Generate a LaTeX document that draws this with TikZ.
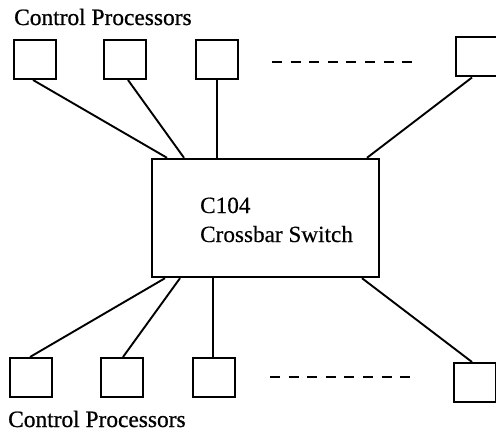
\documentclass[tikz,border=0pt]{standalone}
\usepackage{fontspec}
\setmainfont{Liberation Serif}
\newfontfamily\heavyserif[FakeBold=0.8]{Liberation Serif}
\newfontfamily\midserif[FakeBold=0.4]{Liberation Serif}
\begin{document}
\begin{tikzpicture}[x=1pt,y=-1pt,
  cpbox/.style={draw,line width=2pt,minimum width=42pt,minimum height=39pt,inner sep=0pt},
  xbar/.style={draw,line width=2.4pt,minimum width=227pt,minimum height=118pt,inner sep=0pt},
  link/.style={line width=1.9pt},
  dots/.style={line width=2.8pt,dash pattern=on 10pt off 8.6pt},
  lbl/.style={font=\heavyserif\fontsize{23.4}{28}\selectfont,inner sep=0pt},
  ilbl/.style={font=\midserif\fontsize{23.2}{28}\selectfont,inner sep=0pt}]
\useasboundingbox (0,0) rectangle (496,436);
% labels
\node[lbl,anchor=base west] (ltop) at (14,25) {Control Processors};
\node[lbl,anchor=base west] (lbot) at (8,427) {Control Processors};
% central switch
\node[xbar] (sw) at (265.5,218) {};
\node[ilbl,anchor=base west] (t1a) at (200,213) {C104};
\node[ilbl,anchor=base west] (t1b) at (200,242) {Crossbar Switch};
% top processors
\node[cpbox] (t1) at (35,59.5) {};
\node[cpbox] (t2) at (125,59.5) {};
\node[cpbox] (t3) at (216.5,59.5) {};
\node[cpbox] (t4) at (477,57) {};
% bottom processors
\node[cpbox] (b1) at (30.5,377.5) {};
\node[cpbox] (b2) at (121.5,377.5) {};
\node[cpbox] (b3) at (213.5,377.5) {};
\node[cpbox] (b4) at (475,382.5) {};
% dashed gaps
\coordinate (dta) at (272,62);
\coordinate (dtb) at (413,62);
\coordinate (dba) at (270,377);
\coordinate (dbb) at (412,377);
\draw[dots] (dta) -- (dtb);
\draw[dots] (dba) -- (dbb);
% top links
\draw[link] (t1.south -| 33,0) -- (sw.north -| 167,0);
\draw[link] (t2.south -| 128,0) -- (sw.north -| 184,0);
\draw[link] (t3.south -| 217,0) -- (sw.north -| 217,0);
\draw[link] (t4.south -| 472,0) -- (sw.north -| 367,0);
% bottom links
\draw[link] (b1.north -| 30,0) -- (sw.south -| 165,0);
\draw[link] (b2.north -| 123,0) -- (sw.south -| 180,0);
\draw[link] (b3.north -| 213,0) -- (sw.south -| 213,0);
\draw[link] (b4.north -| 472,0) -- (sw.south -| 362,0);
\end{tikzpicture}
\end{document}
